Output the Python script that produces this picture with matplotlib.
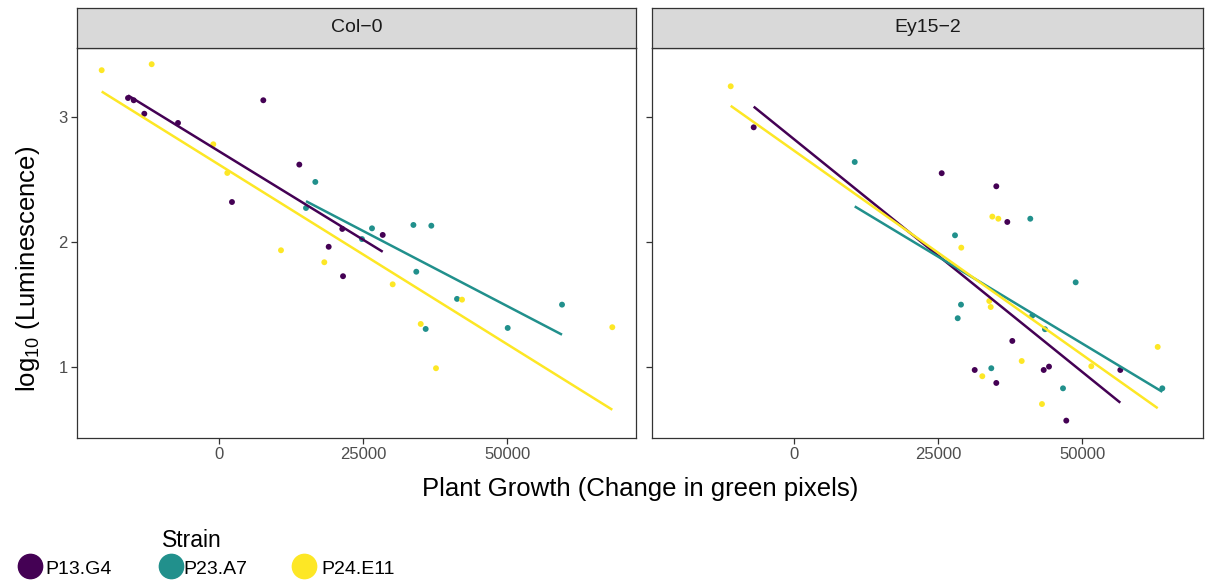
import numpy as np
import matplotlib
matplotlib.use("Agg")
import matplotlib.pyplot as plt
from matplotlib.lines import Line2D

plt.rcParams['font.family'] = ['Liberation Sans', 'DejaVu Sans']
plt.rcParams['mathtext.fontset'] = 'custom'
plt.rcParams['mathtext.rm'] = 'Liberation Sans'
plt.rcParams['mathtext.it'] = 'Liberation Sans:italic'

# ---------------- data ----------------
panels = ["Col\u22120", "Ey15\u22122"]
strains = ["P13.G4", "P23.A7", "P24.E11"]
colors = ["#440154", "#21908C", "#FDE725"]

col0_p13_x = [-15850, -14860, -13020, -7170, 2200, 7640, 13890, 18990, 21350, 21480, 28370]
col0_p13_y = [3.156, 3.138, 3.030, 2.956, 2.322, 3.138, 2.622, 1.963, 2.106, 1.727, 2.058]
col0_p23_x = [15050, 16670, 24770, 26510, 33700, 34200, 35830, 36810, 41270, 50070, 59500]
col0_p23_y = [2.274, 2.483, 2.025, 2.111, 2.138, 1.763, 1.304, 2.132, 1.545, 1.312, 1.499]
col0_p24_x = [-20420, -11740, -1040, 1390, 10710, 18230, 30100, 34970, 37620, 42140, 68230]
col0_p24_y = [3.379, 3.427, 2.785, 2.555, 1.935, 1.839, 1.662, 1.344, 0.989, 1.539, 1.318]

ey_p13_x = [-7050, 25590, 31320, 35070, 35070, 36980, 37850, 43300, 44220, 47220, 56600]
ey_p13_y = [2.921, 2.553, 0.975, 2.448, 0.871, 2.162, 1.208, 0.975, 1.002, 0.569, 0.975]
ey_p23_x = [10490, 27900, 28370, 28940, 34200, 40970, 41320, 43520, 46650, 48850, 63890]
ey_p23_y = [2.643, 2.055, 1.390, 1.499, 0.989, 2.188, 1.411, 1.302, 0.828, 1.678, 0.828]
ey_p24_x = [-11040, 28990, 32640, 33850, 34100, 34380, 35420, 39480, 43000, 51560, 63090]
ey_p24_y = [3.250, 1.956, 0.925, 1.528, 1.480, 2.205, 2.188, 1.047, 0.702, 1.005, 1.160]

xticks = [0, 25000, 50000]
xtick_labels = ["0", "25000", "50000"]
yticks = [1, 2, 3]
ytick_labels = ["1", "2", "3"]

panel_data = [
    [(col0_p13_x, col0_p13_y), (col0_p23_x, col0_p23_y), (col0_p24_x, col0_p24_y)],
    [(ey_p13_x, ey_p13_y), (ey_p23_x, ey_p23_y), (ey_p24_x, ey_p24_y)],
]

# ---------------- layout ----------------
W, H = 1206, 583
fig = plt.figure(figsize=(W / 100, H / 100), dpi=100)

def frac(x0, y0, x1, y1):
    return [x0 / W, 1 - y1 / H, (x1 - x0) / W, (y1 - y0) / H]

panel_px = [(77.3, 48, 636, 437.7), (651.8, 48, 1203, 437.7)]
xlims = [(-24653, 72344), (-24740, 70955)]
ylim = (0.432, 3.557)
dark = "#333333"
grey_txt = "#4D4D4D"

for i, (x0, y0, x1, y1) in enumerate(panel_px):
    ax = fig.add_axes(frac(x0, y0, x1, y1))
    for j, (xs, ys) in enumerate(panel_data[i]):
        xs = np.asarray(xs, float)
        ys = np.asarray(ys, float)
        ax.scatter(xs, ys, s=18, color=colors[j], edgecolors='none', zorder=2)
        b, a = np.polyfit(xs, ys, 1)
        xx = np.array([xs.min(), xs.max()])
        ax.plot(xx, a + b * xx, color=colors[j], lw=1.8, zorder=3,
                solid_capstyle='butt')
    ax.set_xlim(*xlims[i])
    ax.set_ylim(*ylim)
    ax.set_xticks(xticks)
    ax.set_xticklabels(xtick_labels)
    ax.set_yticks(yticks)
    if i == 0:
        ax.set_yticklabels(ytick_labels)
    else:
        ax.set_yticklabels([])
    ax.tick_params(axis='both', direction='out', length=4, width=0.9,
                   color=dark, labelcolor=grey_txt, labelsize=12, pad=3)
    for sp in ax.spines.values():
        sp.set_color(dark)
        sp.set_linewidth(0.9)
    # strip
    sax = fig.add_axes(frac(x0, 8, x1, 48))
    sax.set_facecolor("#D9D9D9")
    sax.set_xticks([])
    sax.set_yticks([])
    for sp in sax.spines.values():
        sp.set_color(dark)
        sp.set_linewidth(0.9)
    sax.text(0.5, 0.5, panels[i], ha='center', va='center', fontsize=14,
             color="#1A1A1A", transform=sax.transAxes)

fig.text(640 / W, 1 - 489 / H, "Plant Growth (Change in green pixels)",
         ha='center', va='center', fontsize=18.5, color='black')
fig.text(28 / W, 1 - 269 / H, r"log$_{10}$ (Luminescence)", rotation=90,
         ha='center', va='center', fontsize=18.5, color='black')

# legend
fig.text(162 / W, 1 - 546.7 / H, "Strain", ha='left', va='baseline',
         fontsize=16.5, color='black')
mk_x = [30, 170.7, 304]
tx_x = [45, 183, 321]
for j in range(3):
    fig.add_artist(Line2D([mk_x[j] / W], [1 - 566 / H], marker='o',
                          markersize=17.5, color=colors[j], linestyle='none',
                          transform=fig.transFigure))
    fig.text(tx_x[j] / W, 1 - 574 / H, strains[j], ha='left', va='baseline',
             fontsize=14, color='black')

fig.savefig("out.png", dpi=100)
